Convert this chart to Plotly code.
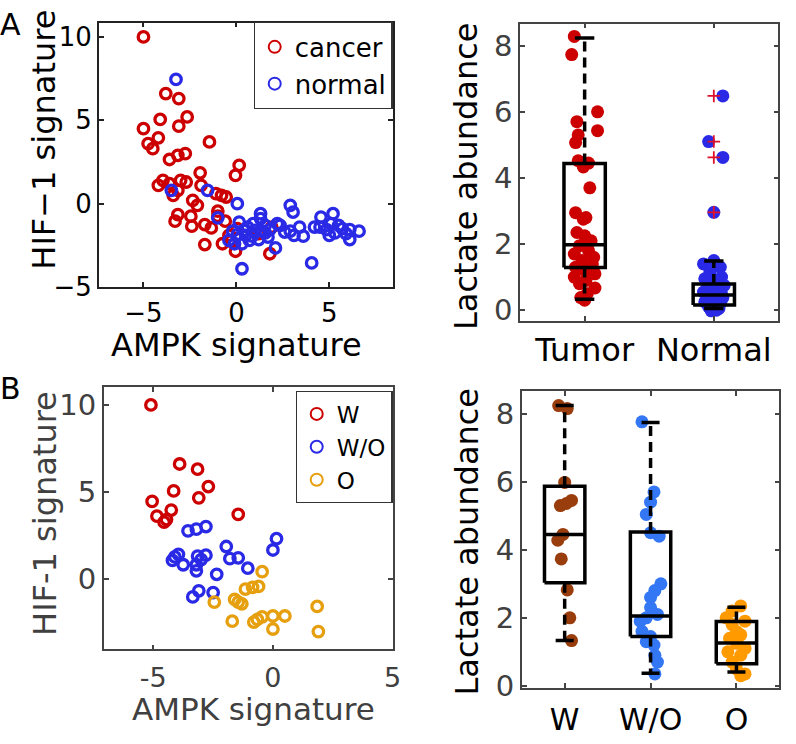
import plotly.graph_objects as go

# ---------------- Data: panel A scatter ----------------
cancer_x = [-5.0, -3.8, -3.1, -2.65, -4.1, -3.1, -5.0, -4.2, -4.75, -4.5, -1.45, -3.6, -3.15, -2.75,
            0.15, -0.05, -1.95, -3.95, -4.2, -3.0, -2.7, -3.15, -3.6, -2.35, -1.9, -1.1, -0.55, -0.8,
            -3.15, -3.3, -2.45, -2.4, -1.7, -1.35, -1.0, -0.6, -1.0, -1.7, -0.75, -0.3, -0.05, 1.8,
            1.9, 0.05, -0.4, 1.2, -2.1, -3.4]
cancer_y = [10.0, 6.6, 6.3, 5.2, 5.05, 4.65, 4.5, 3.95, 3.6, 3.3, 3.7, 2.65, 2.9, 3.0,
            2.3, 1.7, 1.85, 1.4, 1.1, 1.4, 1.3, 0.8, 1.2, 0.2, 1.1, 0.6, 0.4, 0.5,
            -0.65, -1.05, -0.75, -1.35, -1.25, -1.45, -0.45, -1.05, -0.75, -2.45, -2.4, -2.25, -2.85, -3.0,
            -1.4, -1.5, -1.9, -1.8, -0.1, 0.5]
normal_x = [-3.25, -3.5, -1.55, -1.0, 0.05, 2.9, 3.05, 1.3, 4.55, 5.2, 0.15, 0.6, 1.55, 2.35, 2.9,
            3.4, 3.6, 4.2, 4.85, 5.3, 5.7, 6.1, 6.6, 6.1, 0.05, 0.85, 1.4, 1.8, 1.2, 2.1, 0.3, 4.05,
            -0.2, 0.5, 1.55, 0.9, -0.4, 0.3, 0.7, 1.0, 1.3, 2.6, 3.1, 4.5, 5.0, 5.5, 5.9, 5.1, 0.4,
            1.7, -0.1, 2.2]
normal_y = [7.45, 0.8, 0.8, -0.85, 0.0, -0.1, -0.5, -0.6, -0.8, -0.6, -1.1, -1.4, -1.3, -1.3, -1.65,
            -1.4, -1.95, -1.4, -1.55, -1.75, -1.5, -1.55, -1.65, -2.15, -1.85, -1.95, -1.65, -1.55, -2.15, -2.65, -3.9, -3.55,
            -1.65, -1.9, -1.75, -1.2, -2.2, -2.4, -2.2, -1.6, -0.9, -1.7, -1.9, -1.4, -1.9, -1.3, -1.8, -1.2, -1.6,
            -2.0, -2.4, -1.2]

# ---------------- Data: panel A box ----------------
a_box_names = ["Tumor", "Normal"]
tumor_vals = [8.28, 7.73, 6.0, 5.43, 5.7, 5.07, 5.3, 4.52, 4.33, 4.45, 3.7, 2.95, 2.75, 2.8, 2.35, 2.25,
              2.1, 1.95, 1.8, 1.7, 1.6, 1.5, 1.4, 1.3, 1.2, 1.1, 1.0, 0.9, 0.8, 0.67, 0.5, 0.38, 0.3]
tumor_jit = [-0.08, -0.10, 0.10, 0.10, -0.06, -0.07, -0.05, -0.05, -0.01, 0.03, 0.04, -0.07, -0.01, 0.01,
             -0.06, 0.0, 0.05, -0.04, 0.03, -0.08, 0.07, -0.02, 0.06, -0.07, 0.0, 0.08, -0.08, 0.01,
             -0.04, 0.08, 0.02, -0.03, 0.0]
normal_vals = [6.48, 5.1, 4.62, 2.96, 1.5, 1.4, 1.3, 1.15, 1.0, 0.95, 0.85, 0.8, 0.75, 0.7, 0.62, 0.55,
               0.5, 0.45, 0.42, 0.38, 0.33, 0.3, 0.25, 0.2, 0.15, 0.1, 0.05, 0.0, -0.02]
normal_jit = [0.07, -0.04, 0.07, 0.0, 0.0, -0.08, 0.05, -0.03, 0.06, -0.07, 0.02, -0.05, 0.08, -0.02,
              0.04, -0.08, 0.06, 0.0, -0.05, 0.07, -0.02, 0.03, -0.07, 0.05, 0.0, -0.04, 0.04, 0.02, -0.02]
normal_outliers = [6.48, 5.1, 4.62, 2.96]
a_q1 = [1.29, 0.16]
a_med = [1.98, 0.46]
a_q3 = [4.44, 0.79]
a_lo = [0.33, 0.05]
a_hi = [8.23, 1.49]

# ---------------- Data: panel B scatter ----------------
w_x = [-5.1, -3.9, -3.15, -2.7, -4.15, -3.1, -5.05, -4.25, -4.85, -4.55, -4.45, -1.45]
w_y = [10.0, 6.6, 6.3, 5.3, 5.05, 4.65, 4.45, 3.95, 3.6, 3.25, 3.4, 3.7]
wo_x = [-3.55, -3.2, -2.8, -1.95, -1.8, -1.45, -1.05, -4.1, -4.2, -3.75, -3.15, -2.8, -3.2, -3.2,
        -2.35, -3.1, -3.35, -2.5, 0.15, 0.0, -3.0, -3.95]
wo_y = [2.75, 2.85, 3.0, 1.85, 1.15, 1.2, 0.6, 1.25, 1.05, 0.8, 1.3, 1.35, 0.8, 0.45,
        0.25, -0.7, -1.05, -0.8, 2.3, 1.65, 1.1, 1.4]
o_x = [-0.45, -0.85, -1.15, -0.6, -2.45, -1.6, -1.3, -1.45, -1.7, -0.8, -0.45, 0.0, 0.5, 0.0, 1.85, 1.9, -0.65]
o_y = [0.4, -0.5, -0.6, -0.45, -1.35, -1.2, -1.45, -1.35, -2.45, -2.5, -2.2, -2.15, -2.15, -2.9, -1.6, -3.05, -2.35]

# ---------------- Data: panel B box ----------------
b_box_names = ["W", "W/O", "O"]
bw_vals = [8.24, 8.15, 5.98, 5.45, 5.3, 5.36, 4.45, 4.28, 3.73, 2.82, 2.0, 1.33]
bw_jit = [-0.07, 0.03, 0.0, 0.08, -0.05, 0.02, -0.02, -0.08, -0.04, 0.03, 0.06, 0.08]
bwo_vals = [7.76, 5.7, 5.4, 5.04, 4.5, 4.4, 3.0, 2.8, 2.6, 2.3, 2.1, 1.9, 2.0, 1.6, 1.45, 1.3, 1.2, 0.9, 0.7, 0.35]
bwo_jit = [-0.1, 0.04, 0.0, -0.05, 0.0, 0.1, 0.12, 0.05, 0.0, 0.0, 0.08, -0.12, -0.05, -0.1, 0.0,
           -0.05, 0.04, 0.05, 0.08, 0.05]
bo_vals = [2.35, 2.2, 2.0, 1.9, 1.8, 1.6, 1.5, 1.4, 1.25, 1.1, 1.0, 0.9, 0.7, 0.5, 0.35, 0.3]
bo_jit = [0.05, -0.05, -0.12, 0.1, -0.05, 0.0, 0.05, -0.08, 0.0, 0.1, -0.1, 0.05, -0.05, 0.0, 0.1, 0.05]
b_q1 = [3.03, 1.45, 0.65]
b_med = [4.45, 2.05, 1.26]
b_q3 = [5.87, 4.52, 1.89]
b_lo = [1.33, 0.37, 0.41]
b_hi = [8.24, 7.74, 2.31]

# tick labels
a_sc_xticks = [-5, 0, 5]
a_sc_xlabels = ["\u22125", "0", "5"]
a_sc_yticks = [-5, 0, 5, 10]
a_sc_ylabels = ["\u22125", "0", "5", "10"]
b_sc_xticks = [-5, 0, 5]
b_sc_xlabels = ["-5", "0", "5"]
b_sc_yticks = [0, 5, 10]
b_sc_ylabels = ["0", "5", "10"]
box_yticks = [0, 2, 4, 6, 8]
box_ylabels = ["0", "2", "4", "6", "8"]

FONT = "DejaVu Sans"
RED = "#cc0000"
BLUE = "#2a2ae6"
ORANGE = "#e6a00f"
BROWN = "#9a3d0c"
LBLUE = "#3377f5"
LORANGE = "#ff9a00"
GRAY = "#404040"

fig = go.Figure()

def open_scatter(x, y, color, name, xa, ya, legend):
    fig.add_trace(go.Scatter(x=x, y=y, mode="markers", name=name, xaxis=xa, yaxis=ya, legend=legend,
                             marker=dict(symbol="circle-open", size=10.5, color=color,
                                         line=dict(width=3.3, color=color))))

open_scatter(cancer_x, cancer_y, RED, "cancer", "x", "y", "legend")
open_scatter(normal_x, normal_y, BLUE, "normal", "x", "y", "legend")
open_scatter(w_x, w_y, RED, "W", "x3", "y3", "legend2")
open_scatter(wo_x, wo_y, BLUE, "W/O", "x3", "y3", "legend2")
open_scatter(o_x, o_y, ORANGE, "O", "x3", "y3", "legend2")

def dots(pos, vals, jit, color, xa, ya):
    fig.add_trace(go.Scatter(x=[pos + j for j in jit], y=vals, mode="markers", showlegend=False,
                             xaxis=xa, yaxis=ya, marker=dict(size=13, color=color, line=dict(width=0))))

def box_lines(q1, med, q3, lo, hi, hw, cw, xa, ya):
    sx, sy, dx, dy = [], [], [], []
    for i in range(len(q1)):
        p = i + 1
        sx += [p - hw, p + hw, p + hw, p - hw, p - hw, None, p - hw, p + hw, None,
               p - cw, p + cw, None, p - cw, p + cw, None]
        sy += [q1[i], q1[i], q3[i], q3[i], q1[i], None, med[i], med[i], None,
               hi[i], hi[i], None, lo[i], lo[i], None]
        dx += [p, p, None, p, p, None]
        dy += [q3[i], hi[i], None, q1[i], lo[i], None]
    fig.add_trace(go.Scatter(x=dx, y=dy, mode="lines", showlegend=False, xaxis=xa, yaxis=ya,
                             line=dict(color="black", width=3.5, dash="10px,6px")))
    fig.add_trace(go.Scatter(x=sx, y=sy, mode="lines", showlegend=False, xaxis=xa, yaxis=ya,
                             line=dict(color="black", width=3.5)))

dots(1, tumor_vals, tumor_jit, RED, "x2", "y2")
dots(2, normal_vals, normal_jit, BLUE, "x2", "y2")
box_lines(a_q1, a_med, a_q3, a_lo, a_hi, 0.16, 0.075, "x2", "y2")
fig.add_trace(go.Scatter(x=[2] * len(normal_outliers), y=normal_outliers, mode="markers", showlegend=False,
                         xaxis="x2", yaxis="y2",
                         marker=dict(symbol="cross-thin", size=9, line=dict(width=1.8, color="#e0102a"))))

dots(1, bw_vals, bw_jit, BROWN, "x4", "y4")
dots(2, bwo_vals, bwo_jit, LBLUE, "x4", "y4")
dots(3, bo_vals, bo_jit, LORANGE, "x4", "y4")
box_lines(b_q1, b_med, b_q3, b_lo, b_hi, 0.235, 0.105, "x4", "y4")

W, H = 796, 744
def dx_(a, b):
    return [a / W, b / W]
def dy_(top, bot):
    return [1 - bot / H, 1 - top / H]

def ax(domain, rng, tv, tt, anchor, tickcolor, linecolor, tsize, standoff=0):
    return dict(domain=domain, range=rng, tickvals=tv, ticktext=tt, anchor=anchor,
                showgrid=False, zeroline=False, showline=True, linecolor=linecolor, linewidth=1.6,
                mirror="ticks", ticks="inside", ticklen=5, tickwidth=1.6, tickcolor=linecolor,
                ticklabelstandoff=standoff,
                tickfont=dict(family=FONT, size=tsize, color=tickcolor))

def label(text, cx, cy, color="black", size=32, angle=0):
    return dict(text=text, x=cx / W, y=1 - cy / H, xref="paper", yref="paper", xanchor="center",
                yanchor="middle", showarrow=False, textangle=angle,
                font=dict(family=FONT, size=size, color=color))

fig.update_layout(
    width=W, height=H, margin=dict(l=0, r=0, t=0, b=0),
    paper_bgcolor="white", plot_bgcolor="white",
    xaxis=ax(dx_(100, 397), [-7.4, 8.4], a_sc_xticks, a_sc_xlabels, "y", "black", "#222222", 26, 2),
    yaxis=ax(dy_(23, 293), [-5, 10.86], a_sc_yticks, a_sc_ylabels, "x", "black", "#222222", 26),
    xaxis2=ax(dx_(526, 787.3), [0.5, 2.5], [1, 2], a_box_names, "y2", "black", "#444444", 32, 0),
    yaxis2=ax(dy_(24, 327.7), [-0.33, 8.67], box_yticks, box_ylabels, "x2", GRAY, "#444444", 29),
    xaxis3=ax(dx_(105, 397), [-7.07, 5.0], b_sc_xticks, b_sc_xlabels, "y3", GRAY, "#444444", 27, 3),
    yaxis3=ax(dy_(395, 662.7), [-4.07, 11.03], b_sc_yticks, b_sc_ylabels, "x3", GRAY, "#444444", 29),
    xaxis4=ax(dx_(527.7, 788.3), [0.5, 3.5], [1, 2, 3], b_box_names, "y4", "black", "#444444", 30, 5),
    yaxis4=ax(dy_(399.3, 701.7), [-0.05, 8.66], box_yticks, box_ylabels, "x4", GRAY, "#444444", 29),
    legend=dict(x=397 / W, xanchor="right", y=1 - 22.7 / H, yanchor="top", bgcolor="white",
                bordercolor="#333333", borderwidth=1.2, font=dict(family=FONT, size=26, color="black"),
                itemsizing="constant", tracegroupgap=0),
    legend2=dict(x=397 / W, xanchor="right", y=1 - 399.3 / H, yanchor="top", bgcolor="white",
                 bordercolor="#333333", borderwidth=1.2, font=dict(family=FONT, size=23, color="black"),
                 itemsizing="constant", tracegroupgap=0),
    annotations=[
        dict(text="A", x=-2 / W, y=1 - 5 / H, xref="paper", yref="paper", xanchor="left", yanchor="top",
             showarrow=False, font=dict(family=FONT, size=30, color="black")),
        dict(text="B", x=-2 / W, y=1 - 377 / H, xref="paper", yref="paper", xanchor="left", yanchor="top",
             showarrow=False, font=dict(family=FONT, size=30, color="black")),
        label("AMPK signature", 239, 352),
        label("HIF\u22121 signature", 45, 142, angle=-90),
        label("Lactate abundance", 472, 180, angle=-90),
        label("AMPK signature", 256, 724, color=GRAY, size=31),
        label("HIF-1 signature", 46, 524, color=GRAY, angle=-90),
        label("Lactate abundance", 472, 553, angle=-90),
    ],
)

fig.write_html("out.html", config={"displayModeBar": False},
               post_script="document.body.style.margin='0';")
